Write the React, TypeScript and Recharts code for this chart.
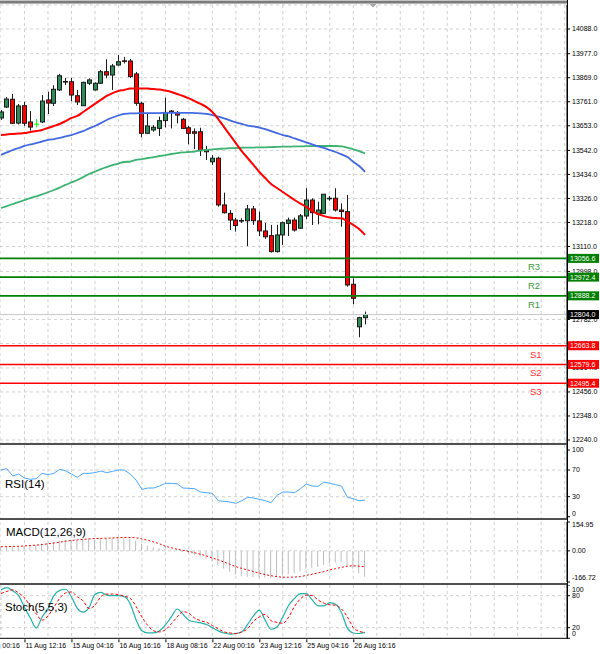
import React from 'react';
import { ComposedChart, Bar, Line, XAxis, YAxis, CartesianGrid, ReferenceLine } from 'recharts';

const FONT = '"Liberation Sans", Arial, sans-serif';

// H4 candles, oldest first
const opens = [13688, 13737, 13772, 13665, 13743, 13670, 13660, 13670, 13769, 13754, 13814, 13852, 13851, 13788, 13743, 13844, 13814, 13844, 13896, 13881, 13926, 13945, 13944, 13886, 13754, 13619, 13634, 13641, 13676, 13719, 13713, 13682, 13644, 13626, 13626, 13544, 13491, 13507, 13297, 13259, 13229, 13227, 13226, 13279, 13225, 13180, 13159, 13087, 13162, 13214, 13229, 13192, 13247, 13319, 13256, 13259, 13327, 13327, 13274, 13267, 12940, 12749, 12790];
const highs = [13724, 13782, 13796, 13751, 13760, 13719, 13683, 13791, 13806, 13835, 13886, 13868, 13868, 13814, 13851, 13866, 13848, 13904, 13952, 13931, 13971, 13962, 13953, 13895, 13761, 13709, 13656, 13694, 13779, 13724, 13719, 13688, 13652, 13641, 13644, 13562, 13521, 13514, 13352, 13274, 13238, 13237, 13297, 13292, 13267, 13216, 13207, 13207, 13222, 13240, 13240, 13256, 13372, 13327, 13311, 13346, 13337, 13372, 13304, 13342, 12967, 12794, 12817];
const lows = [13679, 13733, 13661, 13659, 13652, 13631, 13646, 13665, 13706, 13742, 13809, 13836, 13764, 13746, 13742, 13836, 13811, 13841, 13866, 13814, 13922, 13933, 13868, 13743, 13601, 13615, 13626, 13607, 13646, 13641, 13664, 13638, 13570, 13548, 13517, 13499, 13477, 13289, 13258, 13184, 13177, 13216, 13112, 13207, 13157, 13144, 13083, 13083, 13117, 13157, 13177, 13189, 13232, 13207, 13210, 13256, 13316, 13267, 13199, 12929, 12850, 12702, 12760];
const closes = [13715, 13773, 13664, 13742, 13664, 13647, 13660, 13764, 13755, 13817, 13878, 13851, 13791, 13760, 13848, 13859, 13844, 13896, 13881, 13922, 13941, 13943, 13874, 13754, 13619, 13652, 13646, 13676, 13713, 13713, 13701, 13641, 13619, 13619, 13541, 13536, 13507, 13297, 13262, 13229, 13204, 13225, 13279, 13226, 13180, 13154, 13087, 13162, 13217, 13229, 13184, 13248, 13319, 13262, 13274, 13345, 13326, 13274, 13267, 12937, 12877, 12790, 12804];

// moving averages
const maRed = [13611, 13614, 13616, 13618, 13620, 13625, 13629, 13634, 13643, 13652, 13661, 13674, 13688, 13697, 13715, 13733, 13751, 13769, 13787, 13800, 13809, 13814, 13820, 13821, 13821, 13820, 13818, 13816, 13811, 13805, 13796, 13787, 13776, 13764, 13751, 13737, 13715, 13683, 13647, 13611, 13575, 13539, 13508, 13477, 13445, 13418, 13391, 13373, 13355, 13337, 13319, 13303, 13288, 13270, 13256, 13247, 13240, 13238, 13237, 13222, 13207, 13189, 13162];
const maBlue = [13522, 13533, 13544, 13553, 13562, 13569, 13575, 13582, 13589, 13593, 13598, 13605, 13611, 13620, 13629, 13641, 13652, 13665, 13679, 13690, 13699, 13706, 13709, 13709, 13710, 13710, 13710, 13710, 13711, 13711, 13711, 13711, 13711, 13710, 13709, 13706, 13701, 13694, 13686, 13677, 13668, 13661, 13654, 13650, 13645, 13638, 13629, 13620, 13611, 13605, 13596, 13587, 13578, 13569, 13560, 13553, 13544, 13535, 13524, 13512, 13491, 13472, 13446];
const maGreen = [13283, 13292, 13301, 13310, 13319, 13328, 13335, 13344, 13354, 13364, 13375, 13387, 13398, 13409, 13422, 13436, 13447, 13458, 13467, 13476, 13483, 13490, 13492, 13499, 13503, 13508, 13512, 13517, 13521, 13526, 13530, 13533, 13535, 13537, 13542, 13544, 13547, 13549, 13550, 13552, 13553, 13554, 13555, 13555, 13556, 13556, 13557, 13558, 13559, 13559, 13560, 13560, 13561, 13561, 13562, 13562, 13562, 13562, 13560, 13555, 13547, 13539, 13529];

// oscillators
const rsi = [70, 72, 61, 64, 58, 56, 57, 65, 63, 65, 71, 69, 64, 59, 65, 65, 66, 68.5, 66, 68, 70, 70, 64, 55, 41, 43, 43, 46, 50, 50, 49.5, 43, 42.5, 42, 37, 36, 35, 24, 23, 22, 20, 24, 29, 28, 26, 24, 21, 32, 37, 37, 36, 42, 49, 46, 45.5, 52, 50, 48, 46, 29, 27, 24, 25];
const macdHist = [20, 22, 22, 24, 26, 28, 30, 38, 42, 48, 55, 58, 60, 60, 62, 62, 63, 65, 65, 67, 70, 70, 66, 55, 38, 28, 20, 14, 10, 6, 2, -6, -12, -20, -30, -40, -55, -78, -95, -112, -128, -136, -138, -140, -142, -144, -146, -140, -132, -124, -118, -110, -96, -90, -86, -74, -66, -62, -60, -78, -96, -120, -138];
const macdSignal = [22, 23, 24, 25, 27, 29, 31, 34, 38, 42, 47, 52, 56, 59, 62, 64, 66, 67, 68, 69, 71, 72, 72, 70, 64, 57, 48, 38, 25, 17, 9, 3, -3, -10, -18, -27, -38, -48, -60, -72, -84, -94, -102, -111, -119, -127, -133, -138, -141, -141, -140, -138, -131, -125, -118, -111, -102, -95, -88, -82, -80, -82, -85];
const stochK = [91, 95, 89, 80, 58, 38, 19, 40, 56, 80, 90, 92, 78, 56, 49, 58, 82, 86, 81, 80, 80, 78, 65, 35, 14, 10, 10, 14, 25, 40, 55, 45, 34, 31, 29, 26, 20, 14, 10, 8, 9, 12, 26, 42, 53, 34, 17, 21, 40, 62, 75, 84, 84, 72, 61, 61, 67, 64, 48, 19, 10, 9, 11];
const stochD = [84, 88, 91, 85, 76, 60, 46, 34, 42, 58, 75, 85, 87, 78, 70, 56, 62, 78, 83, 83, 82, 79, 75, 60, 40, 24, 14, 12, 16, 27, 40, 50, 47, 38, 33, 30, 24, 18, 12, 10, 9, 12, 18, 32, 40, 45, 33, 30, 28, 40, 60, 74, 81, 80, 72, 66, 63, 62, 55, 40, 20, 13, 11];

// axes
const priceTicks = [14088, 13977, 13869, 13761, 13653, 13542, 13434, 13326, 13218, 13110, 12998, 12890, 12782, 12674, 12564, 12456, 12348, 12240];
const gridIdx = [0, 4, 8, 12, 16, 20, 24, 28, 32, 36, 40, 44, 48, 52, 56, 60, 64, 68, 72, 76, 80, 84, 88, 92, 96];
const timeIdx = [-4, 4, 12, 20, 28, 36, 44, 52, 60];
const timeLabels = ['10 Aug 00:16', '11 Aug 12:16', '15 Aug 04:16', '16 Aug 16:16', '18 Aug 08:16', '22 Aug 00:16', '23 Aug 12:16', '25 Aug 04:16', '26 Aug 16:16'];

// pivot levels
const levelNames = ['R3', 'R2', 'R1', 'S1', 'S2', 'S3'];
const levelValues = [13056.6, 12972.4, 12888.2, 12663.8, 12579.6, 12495.4];
const lastPrice = 12804.0;

const X_DOMAIN: [number, number] = [-0.17, 96.4];
const PRICE_DOMAIN: [number, number] = [12226.5, 14195.9];
const UP = '#2e8b57';
const DOWN = '#ff0000';

const rows = opens.map((o, i) => ({
  i,
  o,
  h: highs[i],
  l: lows[i],
  c: closes[i],
  maRed: maRed[i],
  maBlue: maBlue[i],
  maGreen: maGreen[i],
  rsi: rsi[i],
  hist: macdHist[i],
  signal: macdSignal[i],
  k: stochK[i],
  d: stochD[i],
}));

const Candle = (props: any) => {
  const { x, y, width, height, payload } = props;
  if (!payload || x == null || y == null) return null;
  const top = Math.min(y, y + height);
  const bot = Math.max(y, y + height);
  const span = payload.h - payload.l;
  const py = (v: number) => (span === 0 ? top : top + ((payload.h - v) / span) * (bot - top));
  const cx = Math.round(x + width / 2) + 0.5;
  const oy = py(payload.o);
  const cy = py(payload.c);
  if (payload.o === payload.c) {
    return (
      <g>
        <line x1={cx} x2={cx} y1={top} y2={bot} stroke="#00ff00" />
        <line x1={cx - 2.5} x2={cx + 2.5} y1={oy} y2={oy} stroke="#00ff00" />
      </g>
    );
  }
  const bodyTop = Math.min(oy, cy);
  const bodyH = Math.max(Math.abs(cy - oy), 0.6);
  return (
    <g>
      <line x1={cx} x2={cx} y1={top} y2={bot} stroke="#1a1a1a" />
      <rect x={cx - 2} y={bodyTop} width={4} height={bodyH} fill={payload.c > payload.o ? UP : DOWN} stroke="#1a1a1a" strokeWidth={1} />
    </g>
  );
};

const axisTick = (fmt: (v: number) => string, nudge: Record<string, number> = {}) => (props: any) => {
  const v = props.payload.value;
  return (
    <text x={props.x} y={props.y + (nudge[String(v)] || 0)} dy="0.35em" fontSize={7} fontFamily={FONT} fill="#000" textAnchor="start">
      {fmt(v)}
    </text>
  );
};

const timeTick = (props: any) => {
  const idx = timeIdx.indexOf(props.payload.value);
  if (idx < 0) return <g />;
  return (
    <g>
      <line x1={props.x + 0.5} x2={props.x + 0.5} y1={props.y - 4} y2={props.y - 1} stroke="#000" />
      <text x={props.x + 1} y={props.y} dy="0.71em" fontSize={7} fontFamily={FONT} fill="#000" textAnchor="start">
        {timeLabels[idx]}
      </text>
    </g>
  );
};

const tagLabel = (text: string, bg: string, name?: string, nameColor?: string) => (props: any) => {
  const vb = props.viewBox;
  const right = vb.x + vb.width;
  const y = vb.y;
  return (
    <g>
      <rect x={right + 1} y={y - 4.5} width={31} height={9} fill={bg} />
      <text x={right + 3} y={y} dy="0.35em" fontSize={7} fontFamily={FONT} fill="#fff">
        {text}
      </text>
      {name && (
        <text x={right - (name[0] === 'R' ? 39 : 37)} y={y + 8.5} dy="0.35em" fontSize={9.5} fontFamily={FONT} fill={nameColor}>
          {name}
        </text>
      )}
    </g>
  );
};

const pane = (top: number): React.CSSProperties => ({ position: 'absolute', left: 0, top });

export default function App() {
  return (
    <div style={{ position: 'absolute', left: 0, top: 0, width: 600, height: 654, background: '#fff', overflow: 'hidden' }}>
      {/* price pane */}
      <div style={pane(0)}>
        <ComposedChart width={600} height={445} data={rows} margin={{ top: 5, right: 0, bottom: 2, left: 0 }}>
          <CartesianGrid stroke="#d0d0d0" strokeDasharray="3 3" />
          <XAxis type="number" dataKey="i" domain={X_DOMAIN} allowDataOverflow ticks={gridIdx} hide />
          <YAxis
            orientation="right"
            width={33}
            domain={PRICE_DOMAIN}
            allowDataOverflow
            ticks={priceTicks}
            interval={0}
            tickSize={3}
            tickLine={{ stroke: '#000' }}
            axisLine={{ stroke: '#000' }}
            tick={axisTick((v) => v.toFixed(1))}
          />
          <ReferenceLine y={lastPrice} stroke="#c8c8c8" />
          <Bar dataKey={(d: any) => [d.l, d.h]} barSize={5} shape={<Candle />} isAnimationActive={false} />
          <Line dataKey="maGreen" type="monotone" stroke="#3cb371" strokeWidth={1.8} dot={false} isAnimationActive={false} />
          <Line dataKey="maBlue" type="monotone" stroke="#4169e1" strokeWidth={1.8} dot={false} isAnimationActive={false} />
          <Line dataKey="maRed" type="monotone" stroke="#ff0000" strokeWidth={2} dot={false} isAnimationActive={false} />
        </ComposedChart>
      </div>

      {/* pivot levels and price tags, layered above the price axis */}
      <div style={pane(0)}>
        <ComposedChart width={600} height={445} data={rows} margin={{ top: 5, right: 0, bottom: 2, left: 0 }}>
          <XAxis type="number" dataKey="i" domain={X_DOMAIN} allowDataOverflow hide />
          <YAxis orientation="right" width={33} domain={PRICE_DOMAIN} allowDataOverflow tick={false} tickLine={false} axisLine={false} />
          <ReferenceLine y={lastPrice} stroke="none" label={tagLabel(lastPrice.toFixed(1), '#000')} />
          {levelValues.map((v, k) => {
            const isR = levelNames[k][0] === 'R';
            return (
              <ReferenceLine
                key={levelNames[k]}
                y={v}
                stroke={isR ? '#008000' : '#ff0000'}
                strokeWidth={1.6}
                label={tagLabel(v.toFixed(1), isR ? '#008000' : '#ff0000', levelNames[k], isR ? '#3a9a3a' : '#ff3030')}
              />
            );
          })}
        </ComposedChart>
      </div>

      {/* RSI pane */}
      <div style={pane(445)}>
        <ComposedChart width={600} height={73} data={rows} margin={{ top: 0, right: 0, bottom: 0, left: 0 }}>
          <CartesianGrid stroke="#d0d0d0" strokeDasharray="3 3" horizontal={false} />
          <XAxis type="number" dataKey="i" domain={X_DOMAIN} allowDataOverflow ticks={gridIdx} hide />
          <YAxis
            orientation="right"
            width={33}
            domain={[-1.95, 107.5]}
            allowDataOverflow
            ticks={[0, 30, 70, 100]}
            interval={0}
            tickSize={3}
            tickLine={{ stroke: '#000' }}
            axisLine={{ stroke: '#000' }}
            tick={axisTick((v) => String(v), { '0': -3.4 })}
          />
          <ReferenceLine y={70} stroke="#d0d0d0" strokeDasharray="3 3" />
          <ReferenceLine y={30} stroke="#d0d0d0" strokeDasharray="3 3" />
          <Line dataKey="rsi" type="linear" stroke="#4aa8ff" strokeWidth={1} dot={false} isAnimationActive={false} />
        </ComposedChart>
      </div>

      {/* MACD pane */}
      <div style={pane(520)}>
        <ComposedChart width={600} height={64} data={rows} margin={{ top: 2, right: 0, bottom: 2, left: 0 }}>
          <CartesianGrid stroke="#d0d0d0" strokeDasharray="3 3" horizontal={false} />
          <XAxis type="number" dataKey="i" domain={X_DOMAIN} allowDataOverflow ticks={gridIdx} hide />
          <YAxis
            orientation="right"
            width={33}
            domain={[-166.72, 154.95]}
            allowDataOverflow
            ticks={[-166.72, 0, 154.95]}
            interval={0}
            tickSize={3}
            tickLine={{ stroke: '#000' }}
            axisLine={{ stroke: '#000' }}
            tick={axisTick((v) => v.toFixed(2), { '154.95': 3, '-166.72': -4.7 })}
          />
          <ReferenceLine y={0} stroke="#d0d0d0" strokeDasharray="3 3" />
          <Bar dataKey="hist" barSize={1} fill="#bdbdbd" isAnimationActive={false} />
          <Line dataKey="signal" type="monotone" stroke="#ff0000" strokeWidth={1} strokeDasharray="2 2" dot={false} isAnimationActive={false} />
        </ComposedChart>
      </div>

      {/* Stochastic pane + time axis */}
      <div style={pane(585)}>
        <ComposedChart width={600} height={69} data={rows} margin={{ top: 0, right: 0, bottom: 0, left: 0 }}>
          <CartesianGrid stroke="#d0d0d0" strokeDasharray="3 3" horizontal={false} verticalPoints={undefined} />
          <XAxis
            type="number"
            dataKey="i"
            domain={X_DOMAIN}
            allowDataOverflow
            ticks={[timeIdx[0], ...gridIdx]}
            interval={0}
            height={15.7}
            tickSize={4}
            tickMargin={1}
            tickLine={false}
            axisLine={{ stroke: '#000' }}
            tick={timeTick}
          />
          <YAxis
            orientation="right"
            width={33}
            domain={[0, 100]}
            allowDataOverflow
            ticks={[0, 20, 80, 100]}
            interval={0}
            tickSize={3}
            tickLine={{ stroke: '#000' }}
            axisLine={{ stroke: '#000' }}
            tick={axisTick((v) => String(v), { '100': 4.3, '0': -5 })}
          />
          <ReferenceLine y={80} stroke="#d0d0d0" strokeDasharray="3 3" />
          <ReferenceLine y={20} stroke="#d0d0d0" strokeDasharray="3 3" />
          <Line dataKey="k" type="monotone" stroke="#20b2aa" strokeWidth={1.2} dot={false} isAnimationActive={false} />
          <Line dataKey="d" type="monotone" stroke="#ff0000" strokeWidth={1} strokeDasharray="3 2" dot={false} isAnimationActive={false} />
        </ComposedChart>
      </div>

      {/* window frame, separators and pane titles */}
      <svg width={600} height={654} style={{ position: 'absolute', left: 0, top: 0, pointerEvents: 'none' }}>
        <rect x={0} y={0} width={567} height={1} fill="#c4c4c4" />
        <rect x={0} y={1} width={567} height={2} fill="#7c7c7c" />
        <rect x={0} y={3} width={567} height={1} fill="#b4b4b4" />
        <polygon points="369.5,4 376.5,4 373,7.5" fill="#a8a8a8" />
        <rect x={0} y={443} width={567} height={2} fill="#505050" />
        <rect x={0} y={518} width={567} height={2} fill="#505050" />
        <rect x={0} y={583} width={567} height={2} fill="#505050" />
        <line x1={567.5} x2={567.5} y1={0} y2={639} stroke="#000" />
        <text x={5} y={488} fontSize={11.5} fontFamily={FONT} fill="#000">RSI(14)</text>
        <text x={6} y={535.5} fontSize={11.5} fontFamily={FONT} fill="#000">MACD(12,26,9)</text>
        <text x={5} y={610.5} fontSize={11.5} fontFamily={FONT} fill="#000">Stoch(5,5,3)</text>
      </svg>
    </div>
  );
}
